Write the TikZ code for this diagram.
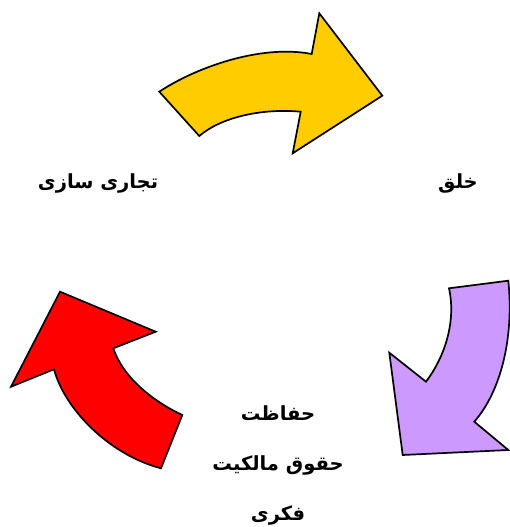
\documentclass[tikz,border=0pt]{standalone}
\usepackage{fontspec}
\newfontfamily\arabicfont[Script=Arabic]{DejaVu Sans}
\TeXXeTstate=1
\begin{document}
\begin{tikzpicture}[x=1pt,y=-1pt,
  arrowshape/.style={draw=black,line width=1.7pt,line join=miter},
  lbl/.style={font=\arabicfont\bfseries\fontsize{19.5}{50}\selectfont,align=center,inner sep=0pt}]
\useasboundingbox (0,0) rectangle (509,527);
% yellow arrow (top)
\filldraw[arrowshape,fill={rgb,255:red,255;green,204;blue,0}]
  (159.3,91.7) .. controls (195,68) and (260,44) .. (311.7,54)
  -- (319.3,13.3) -- (382.3,95.7) -- (292.7,153.3) -- (300.7,111.7)
  .. controls (260,108) and (220,118) .. (199.3,136) -- cycle;
% purple arrow (right)
\filldraw[arrowshape,fill={rgb,255:red,204;green,153;blue,255}]
  (449,288.3) -- (508.3,280.7)
  .. controls (514,335) and (502,390) .. (474.3,421.7)
  -- (508.3,450) -- (402.7,455) -- (389.3,352.7) -- (426,381.7)
  .. controls (446,355) and (456,320) .. cycle;
% red arrow (left)
\filldraw[arrowshape,fill={rgb,255:red,255;green,0;blue,0}]
  (161,468.3) -- (182.3,415)
  .. controls (150,400) and (122,375) .. (113.3,348.3)
  -- (155.7,331.7) -- (60,291.7) -- (11,386.7) -- (54,369.3)
  .. controls (65,410) and (110,455) .. cycle;
% labels
\node[lbl] (khalq) at (458,183) {\beginR خلق\endR};
\node[lbl] (tejari) at (98,183) {\beginR تجاری سازی\endR};
\node[lbl] (hefazat) at (278,465) {\beginR حفاظت\endR\\ \beginR حقوق مالکیت\endR\\ \beginR فکری\endR};
\end{tikzpicture}
\end{document}
